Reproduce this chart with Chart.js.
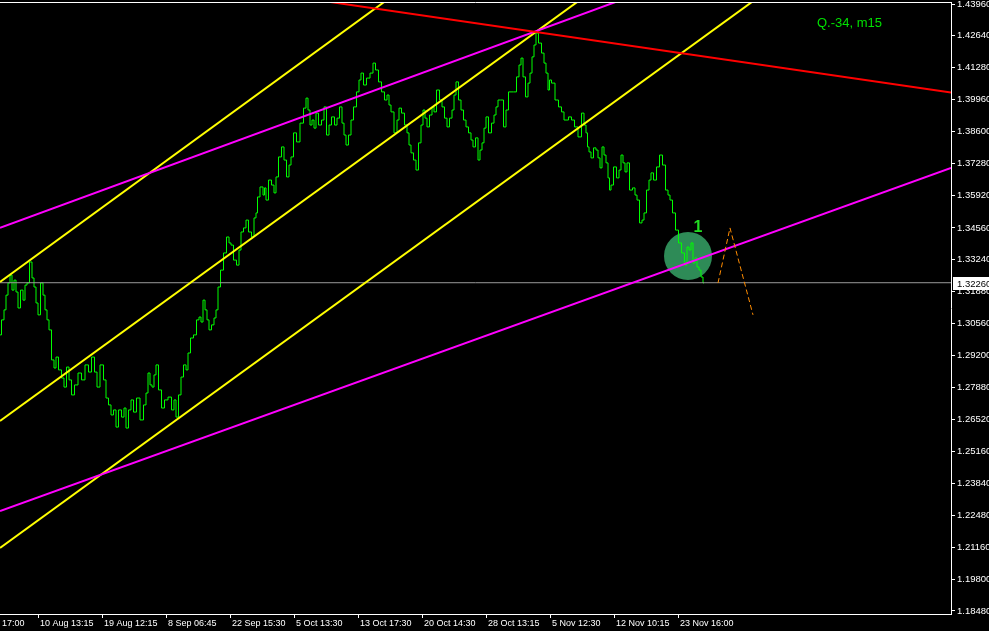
<!DOCTYPE html>
<html>
<head>
<meta charset="utf-8">
<script src="https://cdn.jsdelivr.net/npm/chart.js@4"></script>
<style>
  html, body { margin: 0; padding: 0; background: #000; }
  canvas { display: block; }
</style>
</head>
<body>
<canvas id="myChart" width="989" height="631"></canvas>
<script>
// bar index of each close, and the close price
var bars = [0,3,5,7,9,11,13,15,17,19,22,24,26,28,31,33,35,37,39,42,44,46,48,50,53,55,57,60,63,65,68,70,73,76,80,83,87,90,93,96,98,102,105,107,110,112,115,117,120,123,125,127,130,132,135,138,142,145,147,149,151,153,155,157,160,163,166,170,173,175,177,180,182,185,187,189,192,195,198,200,202,204,206,208,210,213,215,217,219,222,225,228,230,232,235,238,240,242,245,247,250,253,255,257,258,262,264,265,267,270,273,275,277,280,283,285,288,290,292,295,298,302,305,307,309,311,313,315,317,320,323,325,328,330,333,336,338,341,343,345,347,350,352,355,358,360,362,365,368,372,374,377,380,383,386,388,390,392,396,398,400,403,406,408,410,412,415,417,420,422,424,426,428,431,433,435,438,441,443,446,448,451,453,455,457,460,462,465,467,470,472,474,477,479,481,483,485,487,490,493,495,497,499,502,505,507,510,512,515,518,520,522,524,527,529,531,533,535,537,540,543,545,547,549,550,553,557,560,563,565,567,570,573,576,580,583,585,587,588,590,592,595,597,599,601,603,605,607,609,610,612,615,618,620,622,624,626,628,631,634,636,638,641,643,645,648,650,652,655,658,661,664,667,669,671,674,677,680,683,686,688,690,692,694,696,698,700,702,704];
var closes = [1.3007,1.3070,1.3112,1.3174,1.3225,1.3258,1.3195,1.3237,1.3187,1.3120,1.3195,1.3153,1.3216,1.3225,1.3313,1.3246,1.3208,1.3141,1.3091,1.3225,1.3174,1.3112,1.3070,1.3028,1.2902,1.2868,1.2914,1.2860,1.2826,1.2788,1.2872,1.2818,1.2755,1.2797,1.2847,1.2818,1.2881,1.2851,1.2914,1.2851,1.2788,1.2881,1.2818,1.2742,1.2713,1.2671,1.2692,1.2620,1.2692,1.2662,1.2700,1.2616,1.2692,1.2734,1.2683,1.2742,1.2650,1.2713,1.2763,1.2847,1.2797,1.2788,1.2839,1.2881,1.2776,1.2700,1.2734,1.2746,1.2692,1.2734,1.2662,1.2755,1.2830,1.2881,1.2860,1.2931,1.2994,1.3007,1.3070,1.3082,1.3061,1.3153,1.3112,1.3070,1.3028,1.3049,1.3078,1.3112,1.3208,1.3279,1.3351,1.3418,1.3393,1.3384,1.3321,1.3300,1.3363,1.3439,1.3456,1.3489,1.3439,1.3418,1.3498,1.3519,1.3586,1.3628,1.3594,1.3624,1.3573,1.3657,1.3636,1.3603,1.3670,1.3754,1.3796,1.3741,1.3670,1.3720,1.3754,1.3855,1.3817,1.3896,1.3959,1.4001,1.3951,1.3888,1.3909,1.3875,1.3938,1.3888,1.3909,1.3964,1.3846,1.3888,1.3922,1.3888,1.3917,1.3964,1.3896,1.3846,1.3804,1.3846,1.3909,1.3964,1.4027,1.4077,1.4106,1.4056,1.4085,1.4106,1.4148,1.4119,1.4069,1.4027,1.3993,1.4014,1.3972,1.3943,1.3855,1.3909,1.3959,1.3938,1.3888,1.3855,1.3804,1.3771,1.3741,1.3699,1.3813,1.3888,1.3951,1.3917,1.3880,1.3930,1.3964,1.3943,1.4035,1.3993,1.3964,1.3917,1.3880,1.3917,1.3951,1.4014,1.4069,1.3993,1.3951,1.3909,1.3880,1.3855,1.3825,1.3796,1.3834,1.3741,1.3783,1.3813,1.3875,1.3922,1.3855,1.3896,1.3930,1.3964,1.3993,1.3993,1.3880,1.3951,1.4027,1.4027,1.4027,1.4090,1.4140,1.4169,1.4090,1.4006,1.4064,1.4106,1.4174,1.4224,1.4274,1.4232,1.4190,1.4148,1.4106,1.4035,1.4077,1.4064,1.3993,1.3964,1.3943,1.3909,1.3909,1.3922,1.3909,1.3880,1.3838,1.3938,1.3888,1.3855,1.3796,1.3775,1.3750,1.3792,1.3783,1.3750,1.3708,1.3796,1.3762,1.3729,1.3666,1.3615,1.3636,1.3712,1.3666,1.3699,1.3762,1.3729,1.3691,1.3729,1.3615,1.3624,1.3594,1.3573,1.3477,1.3489,1.3519,1.3615,1.3657,1.3687,1.3657,1.3712,1.3762,1.3720,1.3615,1.3594,1.3573,1.3519,1.3447,1.3393,1.3351,1.3300,1.3376,1.3363,1.3393,1.3309,1.3330,1.3292,1.3279,1.3250,1.3225];

// trend lines: [bar, price] end points
var yellowA = [[0, 1.3229], [400, 1.4453]];
var yellowB = [[0, 1.2646], [600, 1.4474]];
var yellowC = [[0, 1.2113], [800, 1.4551]];
var magentaA = [[0, 1.3456], [640, 1.4442]];
var magentaB = [[0, 1.2268], [951, 1.3708]];
var redLine = [[300, 1.4423], [951, 1.4024]];

// projected path after the last bar
var projBars = [718, 730, 753];
var projPrices = [1.3225, 1.3456, 1.3091];

var currentPrice = 1.3226;
var markBar = 688, markPrice = 1.3338;
var labelBar = 698, labelPrice = 1.3456, labelText = '1';
var chartTitle = 'Q.-34, m15';

var yMin = 1.18354, yMax = 1.44044;
var yTicks = [1.43960,1.42640,1.41280,1.39960,1.38600,1.37280,1.35920,1.34560,1.33240,1.31880,1.30560,1.29200,1.27880,1.26520,1.25160,1.23840,1.22480,1.21160,1.19800,1.18480];
var xTickBars = [0, 38, 102, 166, 230, 294, 358, 422, 486, 550, 614, 678];
var xTickLabels = ['17:00','10 Aug 13:15','19 Aug 12:15','8 Sep 06:45','22 Sep 15:30','5 Oct 13:30','13 Oct 17:30','20 Oct 14:30','28 Oct 13:15','5 Nov 12:30','12 Nov 10:15','23 Nov 16:00'];

function pts(a) { return a.map(function (p) { return {x: p[0], y: p[1]}; }); }
function trend(a, color, order) {
    return { data: pts(a), borderColor: color, borderWidth: 2, pointRadius: 0, order: order };
}

var closeData = bars.map(function (b, i) { return {x: b, y: closes[i]}; });
var projData = projBars.map(function (b, i) { return {x: b, y: projPrices[i]}; });

var overlay = {
    id: 'overlay',
    afterDraw: function (chart) {
        var c = chart.ctx, a = chart.chartArea;
        var xs = chart.scales.x, ys = chart.scales.y;
        c.save();
        // top frame line
        c.strokeStyle = '#ffffff';
        c.lineWidth = 1;
        c.beginPath();
        c.moveTo(0, a.top + 0.5);
        c.lineTo(a.right, a.top + 0.5);
        c.stroke();
        // current price box
        var py = Math.round(ys.getPixelForValue(currentPrice));
        c.fillStyle = '#ffffff';
        c.fillRect(a.right + 2, py - 6, 40, 13);
        c.fillStyle = '#000000';
        c.font = '9.5px "Liberation Sans"';
        c.textBaseline = 'middle';
        c.textAlign = 'left';
        c.fillText(currentPrice.toFixed(5), a.right + 6, py + 1);
        // wave label
        c.fillStyle = '#22dd22';
        c.font = 'bold 16px "Liberation Sans"';
        c.textAlign = 'center';
        c.fillText(labelText, xs.getPixelForValue(labelBar), ys.getPixelForValue(labelPrice));
        // title
        c.fillStyle = '#00e000';
        c.font = '13px "Liberation Sans"';
        c.textAlign = 'left';
        c.textBaseline = 'alphabetic';
        c.fillText(chartTitle, a.left + 817, a.top + 25);
        c.restore();
    }
};

var ctx = document.getElementById('myChart');
var myChart = new Chart(ctx, {
    type: 'line',
    data: {
        datasets: [
            { type: 'bubble', data: [{x: markBar, y: markPrice}], radius: 24,
              backgroundColor: '#2e8b57', borderWidth: 0, order: 10 },
            { data: closeData, borderColor: '#00ff00', borderWidth: 1, pointRadius: 0,
              stepped: 'middle', order: 9 },
            { data: [{x: 0, y: currentPrice}, {x: 951, y: currentPrice}],
              borderColor: '#9a9a9a', borderWidth: 1, pointRadius: 0, order: 8 },
            trend(yellowA, '#ffff00', 7),
            trend(yellowB, '#ffff00', 7),
            trend(yellowC, '#ffff00', 7),
            trend(magentaA, '#ff00ff', 6),
            trend(magentaB, '#ff00ff', 6),
            trend(redLine, '#ff0000', 5),
            { data: projData, borderColor: '#ff8c00', borderWidth: 1, borderDash: [5, 3],
              pointRadius: 0, order: 4 }
        ]
    },
    options: {
        responsive: false,
        animation: false,
        events: [],
        layout: { autoPadding: false, padding: { top: 2, left: 0, right: 0, bottom: 0 } },
        plugins: { legend: { display: false }, tooltip: { enabled: false } },
        scales: {
            x: {
                type: 'linear',
                min: 0,
                max: 951,
                border: { display: true, color: '#ffffff', width: 1 },
                grid: {
                    drawOnChartArea: false, drawTicks: true, tickLength: 4,
                    color: function (c) { return c.index === 0 ? 'rgba(0,0,0,0)' : '#ffffff'; }
                },
                ticks: {
                    autoSkip: false, maxRotation: 0, align: 'start', padding: 0, labelOffset: 2,
                    color: '#ffffff', font: { family: 'Liberation Sans', size: 9 },
                    callback: function (v, i) { return xTickLabels[i]; }
                },
                afterBuildTicks: function (s) { s.ticks = xTickBars.map(function (v) { return {value: v}; }); },
                afterFit: function (s) { s.height = 17; s.paddingLeft = 0; s.paddingRight = 0; }
            },
            y: {
                type: 'linear',
                position: 'right',
                min: yMin,
                max: yMax,
                border: { display: true, color: '#ffffff', width: 1 },
                grid: { drawOnChartArea: false, drawTicks: true, tickLength: 4, color: '#ffffff' },
                ticks: {
                    padding: 2, color: '#ffffff', font: { family: 'Liberation Sans', size: 9.5 },
                    callback: function (v) { return v.toFixed(5); }
                },
                afterBuildTicks: function (s) { s.ticks = yTicks.map(function (v) { return {value: v}; }); },
                afterFit: function (s) { s.width = 38; s.paddingTop = 0; s.paddingBottom = 0; }
            }
        }
    },
    plugins: [overlay]
});
</script>
</body>
</html>
